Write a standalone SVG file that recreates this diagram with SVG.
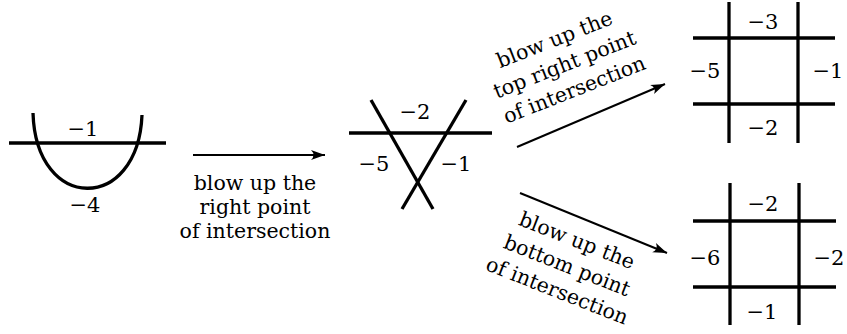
<svg xmlns="http://www.w3.org/2000/svg" width="847" height="334" viewBox="0 0 847 334">
<style>
.c{fill:none;stroke:#000;stroke-width:3.3;stroke-linecap:butt}
.a{fill:none;stroke:#000;stroke-width:2}
.n{font-family:"DejaVu Serif",serif;font-size:21px;text-anchor:middle;fill:#000}
.t{font-family:"DejaVu Serif",serif;font-size:20.5px;text-anchor:middle;fill:#000}
</style>
<defs>
<marker id="ah" viewBox="-15 -6 16 12" refX="0" refY="0" markerWidth="16" markerHeight="12" markerUnits="userSpaceOnUse" orient="auto">
<path d="M0,0 L-14,-5 Q-9,0 -14,5 Z" fill="#000"/>
</marker>
</defs>
<g id="node1">
<line class="c" x1="9" y1="143" x2="166" y2="143"/>
<path class="c" d="M33,113 C36,213 138,213 142,115"/>
<text class="n" x="83" y="136">−1</text>
<text class="n" x="85" y="212">−4</text>
</g>
<g id="node2">
<line class="c" x1="349" y1="133" x2="492" y2="133"/>
<line class="c" x1="371" y1="100" x2="433" y2="209"/>
<line class="c" x1="466" y1="100" x2="402" y2="209"/>
<text class="n" x="415" y="119">−2</text>
<text class="n" x="374" y="171">−5</text>
<text class="n" x="456" y="171">−1</text>
</g>
<g id="node3">
<line class="c" x1="729" y1="2" x2="729" y2="143"/>
<line class="c" x1="798" y1="2" x2="798" y2="143"/>
<line class="c" x1="693" y1="38" x2="835" y2="38"/>
<line class="c" x1="693" y1="104" x2="835" y2="104"/>
<text class="n" x="763" y="29">−3</text>
<text class="n" x="705" y="78">−5</text>
<text class="n" x="828" y="78">−1</text>
<text class="n" x="763" y="135">−2</text>
</g>
<g id="node4">
<line class="c" x1="730" y1="183" x2="730" y2="325"/>
<line class="c" x1="799" y1="183" x2="799" y2="325"/>
<line class="c" x1="693" y1="221" x2="836" y2="221"/>
<line class="c" x1="693" y1="287" x2="836" y2="287"/>
<text class="n" x="763" y="211">−2</text>
<text class="n" x="705" y="265">−6</text>
<text class="n" x="829" y="265">−2</text>
<text class="n" x="762" y="319">−1</text>
</g>
<g id="connectors">
<line class="a" x1="193" y1="155" x2="325" y2="155" marker-end="url(#ah)"/>
<line class="a" x1="517" y1="147" x2="665" y2="84" marker-end="url(#ah)"/>
<line class="a" x1="520" y1="193" x2="667" y2="253" marker-end="url(#ah)"/>
</g>
<g id="labels">
<text class="t" x="255"><tspan x="255" y="190">blow up the</tspan><tspan x="255" y="214">right point</tspan><tspan x="255" y="238">of intersection</tspan></text>
<text class="t" transform="translate(567,71) rotate(-21.5)"><tspan x="0" y="-27">blow up the</tspan><tspan x="0" y="0">top right point</tspan><tspan x="0" y="27">of intersection</tspan></text>
<text class="t" transform="translate(564.5,272) rotate(21.5)"><tspan x="0" y="-27">blow up the</tspan><tspan x="0" y="0">bottom point</tspan><tspan x="0" y="27">of intersection</tspan></text>
</g>
</svg>
